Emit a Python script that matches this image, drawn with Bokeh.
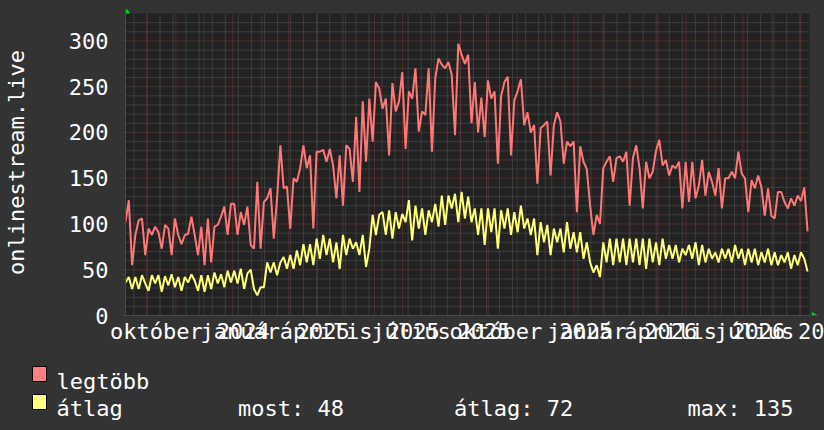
import numpy as np
import pandas as pd
from bokeh.plotting import figure
from bokeh.models import Range1d, FixedTicker, SingleIntervalTicker
from bokeh.layouts import column
from bokeh.core.properties import value
from bokeh.embed import file_html
from bokeh.resources import INLINE

# time axis: days since 2023-09-08
START = pd.Timestamp("2023-09-08")
END_DAY = 733.4
STEP_DAYS = 3.533

legtobb = [
    102, 126, 55, 88, 104, 106, 66, 95, 88, 97,
    91, 73, 99, 95, 66, 106, 88, 78, 88, 89,
    108, 88, 66, 97, 55, 106, 58, 97, 99, 108,
    119, 88, 122, 122, 88, 113, 99, 119, 77, 73,
    146, 73, 124, 128, 139, 84, 128, 186, 139, 141,
    95, 150, 146, 161, 186, 161, 175, 95, 179, 179,
    181, 168, 182, 164, 128, 175, 120, 186, 182, 146,
    217, 135, 234, 168, 237, 190, 255, 248, 226, 237,
    175, 254, 223, 234, 266, 182, 245, 237, 270, 201,
    223, 219, 270, 179, 259, 281, 274, 270, 277, 263,
    197, 297, 285,
    275, 285, 210, 255, 200, 238, 195, 257, 237, 245,
    166, 240, 255, 261, 175, 235, 245, 258, 208, 222,
    200, 208, 144, 205, 208, 212, 153, 208, 222, 212,
    166, 190, 185, 190, 113, 185, 168, 160, 120, 88,
    110, 100, 161, 168, 174, 146, 172, 174, 168, 179,
    120, 172, 186, 161, 117, 168, 150, 157, 180, 192,
    164, 170, 153, 164, 161, 168, 117, 168, 124, 168,
    128, 142, 170, 131, 157, 146, 131, 161, 117, 150,
    150, 157, 150, 179, 155, 150, 113, 148, 139, 153,
    140, 109, 139, 109, 106, 135, 135, 124, 117, 128,
    120, 131, 125, 140, 92,
]

atlag = [
    36, 42, 29, 42, 29, 44, 35, 27, 44, 35,
    44, 26, 43, 33, 45, 31, 42, 27, 42, 36,
    45, 38, 27, 44, 26, 44, 29, 47, 35, 45,
    31, 49, 36, 49, 35, 51, 29, 46, 50, 29,
    22, 31, 31, 58, 47, 58, 44, 58, 64, 51,
    66, 51, 71, 55, 78, 58, 78, 55, 84, 62,
    88, 66, 84, 58, 80, 51, 88, 66, 84, 73,
    80, 66, 88, 53, 73, 110, 88, 110, 113, 88,
    115, 84, 113, 95, 111, 102, 126, 82, 120, 95,
    117, 88, 115, 102, 122, 97, 131, 99, 131, 117,
    133, 102, 135,
    106, 130, 102, 117, 88, 117, 77, 117, 91, 117,
    73, 115, 95, 117, 88, 113, 91, 120, 95, 106,
    88, 106, 66, 102, 80, 99, 66, 95, 80, 95,
    69, 102, 73, 91, 69, 91, 62, 80, 58, 47,
    55, 42, 80, 58, 84, 55, 84, 58, 84, 55,
    84, 58, 84, 55, 84, 51, 84, 58, 80, 55,
    84, 62, 77, 62, 77, 58, 73, 66, 77, 62,
    80, 55, 77, 58, 73, 62, 69, 58, 73, 62,
    73, 58, 77, 62, 73, 55, 73, 58, 73, 55,
    69, 58, 73, 55, 69, 55, 66, 58, 69, 51,
    66, 55, 69, 62, 48,
]

month_label_days = [33.2, 123.0, 215.0, 306.0, 397.0, 494.6, 584.6, 674.5]
month_labels = ["október", "január", "április", "július",
                "október", "január", "április", "július"]
year_label_days = [126.3, 212.0, 308.4, 384.4, 493.6, 584.7, 679.0, 741.9]
year_labels = ["2024", "2025", "2025", "2025", "2025", "2026", "2026",
               "20"]   # the last year label runs off the right edge

legend_names = ["legtöbb", "átlag"]
legend_colors = ["#ff8080", "#ffff80"]
stat_texts = ["most: 48", "átlag: 72", "max: 135"]

FONT = "DejaVu Sans Mono"
BG = "#333333"
CANVAS = "#222222"
RED = "#ff7878"
YEL = "#ffff78"
GRID_MAJOR = "#803535"
GRID_MINOR = "#585858"

W = 824
H1, H2 = 350, 80
PL, PR, PT, PB = 124, 809, 13, 315   # plot-area edges in pixels
FR_R, FR_T = 817, 9                   # frame reaches a bit further (arrows)
Y_MAX = 330.0
PX_DAY = (PR - PL) / END_DAY
PX_VAL = (PB - PT) / Y_MAX


def dx(px):  # pixel column -> day
    return (px - PL) / PX_DAY


def vy(py):  # pixel row -> value
    return (PB - py) / PX_VAL


x = np.arange(len(legtobb)) * STEP_DAYS

month_starts = pd.date_range("2023-10-01", "2025-09-01", freq="MS")
month_days = [float((d - START).days) for d in month_starts]
biweekly = [float(d) for d in np.arange(9, END_DAY, 14)]
y_major = list(range(0, 301, 50))
y_minor = [v for v in range(10, int(Y_MAX), 10) if v % 50]

p = figure(width=W, height=H1, output_backend="svg", toolbar_location=None,
           x_range=Range1d(0, dx(FR_R)), y_range=Range1d(0, vy(FR_T)),
           min_border_left=PL, min_border_right=W - FR_R, min_border_top=FR_T,
           min_border_bottom=H1 - PB)
p.background_fill_color = BG
p.border_fill_color = BG
p.outline_line_color = None
p.grid.visible = False
p.frame_align = False

# plot area and its dotted grid
p.quad(left=[0], right=[END_DAY], bottom=[0], top=[Y_MAX],
       fill_color=CANVAS, line_color=None)
p.segment(x0=0, x1=END_DAY, y0=y_minor, y1=y_minor,
          line_color=GRID_MINOR, line_dash="1 1", line_width=1)
p.segment(x0=biweekly, x1=biweekly, y0=0, y1=Y_MAX,
          line_color=GRID_MINOR, line_dash="1 1", line_width=1)
p.segment(x0=0, x1=END_DAY, y0=y_major, y1=y_major,
          line_color=GRID_MAJOR, line_dash="1 1", line_width=1)
p.segment(x0=month_days, x1=month_days, y0=0, y1=Y_MAX,
          line_color=GRID_MAJOR, line_dash="1 1", line_width=1)

p.yaxis.ticker = SingleIntervalTicker(interval=50, num_minor_ticks=5)

ticks = month_label_days + year_label_days
overrides = {d: t for d, t in zip(month_label_days, month_labels)}
overrides.update({d: t for d, t in zip(year_label_days, year_labels)})
p.xaxis.ticker = FixedTicker(ticks=sorted(ticks))
p.xaxis.major_label_overrides = overrides

for ax in (p.xaxis, p.yaxis):
    ax.major_label_text_font = FONT
    ax.major_label_text_font_size = "22px"
    ax.major_label_text_color = "#ffffff"
    ax.axis_line_color = "#4a4a4a"
    ax.minor_tick_line_color = None

p.xaxis.major_tick_line_color = None
p.xaxis.major_label_standoff = -3
p.yaxis.major_tick_line_color = "#4a4a4a"
p.yaxis.major_tick_out = 2
p.yaxis.major_tick_in = 0
p.yaxis.major_label_standoff = 13
p.yaxis.axis_label = "onlinestream.live"
p.yaxis.axis_label_text_font = FONT
p.yaxis.axis_label_text_font_size = "22px"
p.yaxis.axis_label_text_font_style = "normal"
p.yaxis.axis_label_text_color = "#ffffff"
p.yaxis.axis_label_standoff = 37

p.line(x, legtobb, line_color=RED, line_width=2)
p.line(x, atlag, line_color=YEL, line_width=2)

# green axis arrows
p.scatter(x=[dx(125)], y=[vy(11)], marker="triangle", size=7,
          fill_color="#00dd00", line_color=None)
p.scatter(x=[dx(813.5)], y=[0], marker="triangle", size=7, angle=-np.pi / 2,
          fill_color="#00dd00", line_color=None)

# legend strip below
q = figure(width=W, height=H2, output_backend="svg", toolbar_location=None,
           x_range=Range1d(0, W), y_range=Range1d(H2, 0), min_border=0)
q.background_fill_color = BG
q.border_fill_color = BG
q.outline_line_color = None
q.axis.visible = False
q.grid.visible = False
q.frame_align = False

q.quad(left=[32, 32], right=[46, 46], top=[16, 44], bottom=[31, 59],
       fill_color=legend_colors, line_color="#000000", line_width=1)
q.text(x=[56, 56], y=[31, 58], text=legend_names,
       text_font=value(FONT), text_font_size="22px", text_color="#ffffff",
       text_baseline="alphabetic")
q.text(x=[237.5, 453.5, 687], y=[58, 58, 58], text=stat_texts,
       text_font=value(FONT), text_font_size="22px", text_color="#ffffff",
       text_baseline="alphabetic")

layout = column(p, q, spacing=0)
html = file_html(layout, INLINE)
html = html.replace("<head>", "<head><style>html,body{margin:0;padding:0;"
                    "background:#333333;overflow:hidden}</style>", 1)
open("out.html", "w").write(html)
